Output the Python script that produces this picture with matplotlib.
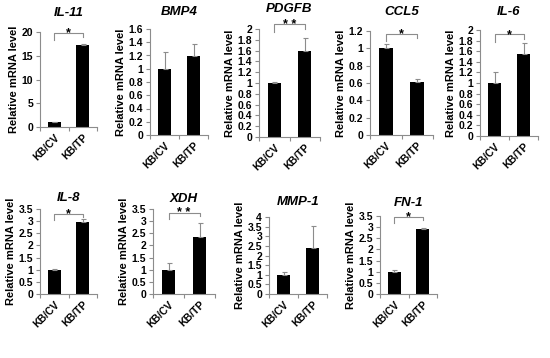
import numpy as np
import matplotlib
matplotlib.use("Agg")
import matplotlib.pyplot as plt
from matplotlib.ticker import FuncFormatter

plt.rcParams['font.family'] = ['Liberation Sans', 'DejaVu Sans']
plt.rcParams['font.weight'] = 'bold'

# data
groups = ["KB/CV", "KB/TP"]
genes = ["IL-11", "BMP4", "PDGFB", "CCL5", "IL-6", "IL-8", "XDH", "MMP-1", "FN-1"]
cv_mean = [1.0, 1.0, 1.0, 1.0, 1.0, 1.0, 1.0, 1.0, 1.0]
cv_err = [0.1, 0.25, 0.02, 0.05, 0.2, 0.01, 0.27, 0.12, 0.08]
tp_mean = [17.2, 1.2, 1.6, 0.61, 1.55, 2.98, 2.33, 2.4, 2.92]
tp_err = [0.35, 0.17, 0.23, 0.04, 0.2, 0.1, 0.6, 1.12, 0.06]
ymax = [20, 1.6, 2, 1.2, 2, 3.5, 3.5, 4, 3.5]
ystep = [5, 0.2, 0.2, 0.2, 0.2, 0.5, 0.5, 0.5, 0.5]
sig = ["*", "", "* *", "*", "*", "*", "* *", "", "*"]
bracket = [19.8, None, 2.09, 1.17, 1.92, 3.3, 3.35, None, 3.45]

# axes boxes in pixels: left, right, top, bottom(zero); title centre y
boxes = [(40, 97, 32, 127), (150, 208, 29, 135), (259, 320, 29, 137),
         (370, 433, 31, 135), (480, 538, 30, 136),
         (40, 97, 209, 294), (153, 215, 209, 294), (269, 327, 217, 294),
         (380, 437, 216, 294)]
title_y = [13, 12, 9, 12, 12, 198, 199, 202, 203]

W, H = 550, 358
fig = plt.figure(figsize=(W / 100, H / 100), dpi=100)
gray = "#8c8c8c"

for i, g in enumerate(genes):
    l, r, t, b = boxes[i]
    ax = fig.add_axes([l / W, 1 - b / H, (r - l) / W, (b - t) / H])
    x = np.arange(2)
    ax.bar(x, [cv_mean[i], tp_mean[i]], width=0.44, color="black", zorder=2)
    ax.errorbar(x, [cv_mean[i], tp_mean[i]],
                yerr=[[0, 0], [cv_err[i], tp_err[i]]],
                fmt="none", ecolor=gray, elinewidth=0.8, capsize=1.8,
                capthick=0.8, zorder=3)
    ax.set_xlim(-0.5, 1.5)
    ax.set_ylim(0, ymax[i])
    ax.set_yticks(np.arange(0, ymax[i] + ystep[i] / 2, ystep[i]))
    ax.yaxis.set_major_formatter(FuncFormatter(lambda v, p: "{:g}".format(round(v, 2))))
    ax.set_xticks(x)
    ax.set_xticklabels(groups, rotation=45, ha="right", rotation_mode="anchor",
                       fontweight="bold")
    ax.set_xticks([-0.5, 0.5, 1.5], minor=True)
    ax.tick_params(axis="x", which="major", length=0, labelsize=7.5, pad=4)
    ax.tick_params(axis="x", which="minor", length=3, color=gray, width=0.8)
    ax.tick_params(axis="y", length=3, color=gray, width=0.8, labelsize=7.5, pad=2)
    for lab in ax.get_yticklabels():
        lab.set_fontweight("bold")
    for s in ["top", "right"]:
        ax.spines[s].set_visible(False)
    for s in ["left", "bottom"]:
        ax.spines[s].set_color(gray)
        ax.spines[s].set_linewidth(0.8)
    ax.set_ylabel("Relative mRNA level", fontsize=8, fontweight="bold", labelpad=2)
    fig.text((l + r) / 2 / W, 1 - title_y[i] / H, g, ha="center", va="center",
             fontsize=9.5, style="italic", fontweight="bold")

    if bracket[i] is not None:
        h = bracket[i]
        leg = 0.07 * ymax[i]
        ax.plot([0, 0, 1, 1], [h - leg, h, h, h - leg * 0.6], color=gray,
                lw=0.8, clip_on=False)
        ax.annotate(sig[i], (0.5, h), xytext=(0, -2.5), textcoords="offset points",
                    ha="center", va="baseline", fontsize=9, fontweight="bold",
                    annotation_clip=False)

fig.savefig("out.png", dpi=100)
